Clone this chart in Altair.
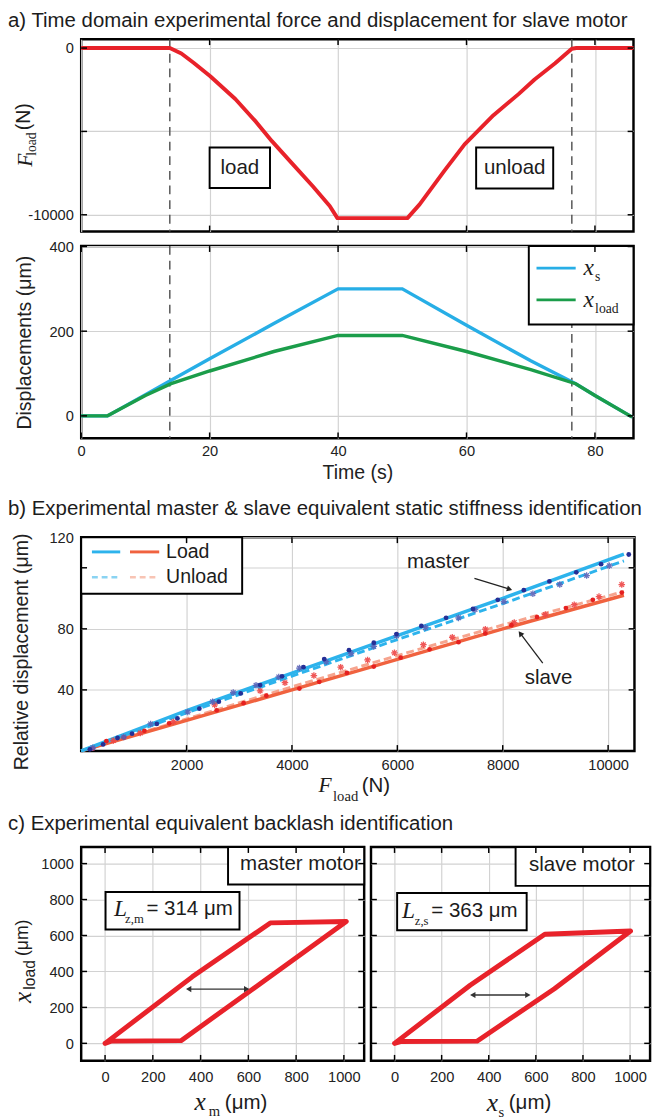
import altair as alt
import pandas as pd

SANS = "Liberation Sans"
SERIF = "Liberation Serif"
INK = "#1c1c1c"
RED = "#e8222a"
BLUE = "#27aee6"
GREEN = "#1b9d4a"
M_BLUE = "#2db3ec"
M_BLUE_L = "#8ad3f2"
S_RED = "#f0623f"
S_PINK = "#f6a48e"
S_PINK_L = "#f8c4b4"
NAVY = "#252f96"
M_STAR = "#5b63b8"
S_STAR = "#ee4646"
GRID = "#d2d2d2"
TITLE_SIZE = 20.9
LEFT = -75

# ---------------- (a) time domain ----------------
force_t = [0, 13.8, 15.6, 17.6, 20.1, 24.0, 27.2, 29.7, 32.9, 36.1, 38.7, 39.9,
           50.8, 52.7, 56.6, 59.7, 61.7, 64.2, 68.1, 70.6, 73.8, 76.4, 77.1, 86.0]
force_F = [0, 0, -330, -914, -1693, -3054, -4416, -5584, -6946, -8307, -9475, -10200,
           -10200, -9377, -7335, -5778, -5000, -4027, -2763, -1887, -914, -39, 0, 0]

disp_t = [0, 4.1, 10, 14, 20, 30, 40, 50, 60, 70, 77, 80, 85.8]
disp_xs = [0, 0, 50, 84, 135, 218, 300, 300, 214, 130, 76, 48, -3]
disp_xload = [0, 0, 48, 76, 106, 152, 190, 190, 152, 109, 76, 48, -3]

phase_t = [13.8, 76.4]
time_ticks = [0, 20, 40, 60, 80]
force_ticks = [0, -5000, -10000]
disp_ticks = [0, 200, 400]

force_box_label = ["load", "unload"]
force_box_t1 = [20.0, 61.5]
force_box_t2 = [29.4, 73.5]
force_box_F1 = [-5970, -5970]
force_box_F2 = [-8400, -8420]
force_box_tc = [24.7, 67.5]
force_box_Fc = [-7180, -7190]

disp_leg_box_t = [69.7, 86.0]
disp_leg_box_v = [216, 401]
disp_leg_line_t = [70.9, 77.0]
disp_leg_row_v = [349, 274]
disp_leg_text_t = 78.2
disp_leg_sub = ["s", "load"]
disp_leg_color = [BLUE, GREEN]

# ---------------- (b) stiffness ----------------
b_F = [0, 2000, 4000, 6000, 8000, 10300]
master_load = [0, 26.5, 51, 75.5, 100, 129]
master_unload = [0, 25, 49, 73, 96.5, 124.5]
slave_load = [0, 20, 40, 60, 80, 102]
slave_unload = [0, 21, 42, 62.5, 82.5, 104.5]

m_dot_F = [165, 416, 690, 965, 1435, 1827, 2243, 2612, 3027, 3396, 3812, 4219, 4612,
           5082, 5553, 5984, 6455, 6925, 7435, 7906, 8400, 8886, 9396, 9866, 10392]
m_dot_v = [1.1, 4.3, 8.5, 11.3, 17.7, 21.3, 27.7, 32.3, 37.7, 43.2, 48.9, 54.9, 60.2,
           66.0, 70.9, 76.6, 81.9, 87.2, 93.0, 99.0, 105.3, 111.1, 117.0, 122.4, 128.7]
m_star_F = [220, 808, 1318, 2023, 2494, 2886, 3318, 3749, 4141, 4651, 5121, 5553, 5984,
            6533, 7161, 7474, 8023, 8572, 9082, 9592, 10023]
m_star_v = [2.1, 9.2, 17.7, 25.5, 32.3, 38.3, 43.0, 48.5, 54.3, 58.5, 63.8, 68.5, 75.5,
            80.9, 87.2, 92.6, 97.9, 103.0, 109.0, 114.9, 121.3]
s_dot_F = [220, 478, 808, 1200, 1670, 2572, 3082, 3514, 4141, 4518, 5043, 5553, 6063,
           6612, 7161, 7670, 8164, 8651, 9200, 9710, 10259]
s_dot_v = [1.5, 6.4, 8.9, 13.2, 18.1, 26.6, 31.3, 36.2, 40.9, 45.3, 51.1, 55.3, 61.1,
           66.6, 71.3, 77.0, 82.4, 87.7, 93.6, 99.0, 103.8]
s_star_F = [612, 1122, 1749, 2533, 3396, 3867, 4416, 4925, 5435, 5945, 6494, 7043, 7670,
            8219, 8808, 9357, 9827, 10259]
s_star_v = [6.8, 11.7, 19.2, 30.2, 39.4, 44.7, 49.4, 54.9, 59.6, 64.3, 69.6, 74.5, 79.8,
            84.1, 89.4, 95.8, 101.1, 109.0]

b_xticks = [2000, 4000, 6000, 8000, 10000]
b_yticks = [40, 80, 120]

b_leg_box_F = [0, 3055]
b_leg_box_v = [103, 140]
b_leg_rows_v = [130.4, 113.8]
b_leg_blue_F = [204, 741]
b_leg_red_F = [926, 1481]
b_leg_text_F = 1611
b_leg_text = ["Load", "Unload"]

b_note_text = ["master", "slave"]
b_note_F = [6778, 8870]
b_note_v = [124, 48]
b_arrow_F1 = [7463, 8760]
b_arrow_v1 = [113, 57.5]
b_arrow_F2 = [8130, 8333]
b_arrow_v2 = [106, 77]
b_arrow_angle = [107, 323]

# ---------------- (c) backlash ----------------
loop_m_x = [0, 25, 318, 651, 1010, 692, 365, 0]
loop_m_y = [0, 12, 15, 333, 678, 670, 370, 0]
loop_s_x = [0, 25, 350, 679, 1002, 638, 321, 0]
loop_s_y = [0, 10, 12, 304, 625, 607, 323, 0]
c_ticks = [0, 200, 400, 600, 800, 1000]


# ---------------- helpers ----------------
def scales(xdom, ydom, xaxis, yaxis):
    xs = alt.Scale(domain=xdom, nice=False, zero=False)
    ys = alt.Scale(domain=ydom, nice=False, zero=False)

    def X(f):
        return alt.X(f, type="quantitative", scale=xs, axis=xaxis)

    def Y(f):
        return alt.Y(f, type="quantitative", scale=ys, axis=yaxis)

    return X, Y


def ptext(s, x, y, size, font=SANS, style="normal", angle=None, align="center",
          baseline="middle", opacity=None):
    kw = dict(font=font, fontSize=size, fontStyle=style, align=align,
              baseline=baseline, color=INK)
    if angle is not None:
        kw["angle"] = angle
    if opacity is not None:
        kw["opacity"] = opacity
    return alt.Chart(pd.DataFrame({"s": [s]})).mark_text(**kw).encode(
        x=alt.value(x), y=alt.value(y), text="s:N")


def tick_layers(X, Y, xvals, yvals, W, H, L=6):
    out = []
    rk = dict(color="black", strokeWidth=1.5)
    if xvals:
        d = pd.DataFrame({"v": xvals})
        out.append(alt.Chart(d).mark_rule(**rk).encode(x=X("v"), y=alt.value(H), y2=alt.value(H - L)))
        out.append(alt.Chart(d).mark_rule(**rk).encode(x=X("v"), y=alt.value(0), y2=alt.value(L)))
    if yvals:
        d = pd.DataFrame({"v": yvals})
        out.append(alt.Chart(d).mark_rule(**rk).encode(y=Y("v"), x=alt.value(0), x2=alt.value(L)))
        out.append(alt.Chart(d).mark_rule(**rk).encode(y=Y("v"), x=alt.value(W - L), x2=alt.value(W)))
    return out


# ================= (a) force panel =================
W_A, H_A = 566, 197
ax_time_top = alt.Axis(values=time_ticks, labels=False, title=None, grid=True)
ax_force = alt.Axis(values=force_ticks, title=None, labelPadding=8,
                    labelExpr="datum.value == -5000 ? '' : (datum.value < 0 ? '-' + abs(datum.value) : '' + datum.value)")
Xa, Ya = scales([0, 86], [-11000, 530], ax_time_top, ax_force)

force_df = pd.DataFrame({"t": force_t, "F": force_F})
phase_df = pd.DataFrame({"t": phase_t})
fbox_df = pd.DataFrame({"t1": force_box_t1, "t2": force_box_t2, "F1": force_box_F1,
                        "F2": force_box_F2, "tc": force_box_tc, "Fc": force_box_Fc,
                        "label": force_box_label})

force_layers = [
    alt.Chart(phase_df).mark_rule(color="#555555", strokeWidth=1.5, strokeDash=[9, 6]).encode(x=Xa("t")),
    alt.Chart(force_df).mark_line(color=RED, strokeWidth=4, strokeJoin="round").encode(x=Xa("t"), y=Ya("F")),
    alt.Chart(fbox_df).mark_rect(fill="white", stroke="black", strokeWidth=2).encode(
        x=Xa("t1"), x2="t2", y=Ya("F1"), y2="F2"),
    alt.Chart(fbox_df).mark_text(font=SANS, fontSize=21, color=INK).encode(
        x=Xa("tc"), y=Ya("Fc"), text="label:N"),
] + tick_layers(Xa, Ya, time_ticks[1:], force_ticks, W_A, H_A) + [
    ptext("a) Time domain experimental force and displacement for slave motor",
          LEFT, -12.5, TITLE_SIZE, align="left", baseline="alphabetic"),
    ptext("F", -57, 124, 22, SERIF, "italic", angle=270),
    ptext("load", -50, 107.5, 14, SERIF, angle=270),
    ptext("(N)", -58, 79.5, 20, angle=270),
]
force_chart = alt.layer(*force_layers).properties(width=W_A, height=H_A)

# ================= (a) displacement panel =================
ax_time = alt.Axis(values=time_ticks, format="d", title="Time (s)", labelPadding=6, titlePadding=4)
ax_disp = alt.Axis(values=disp_ticks, format="d", title="Displacements (μm)",
                   labelPadding=8, titlePadding=15)
Xd, Yd = scales([0, 86], [-53, 401], ax_time, ax_disp)

xs_df = pd.DataFrame({"t": disp_t, "v": disp_xs})
xl_df = pd.DataFrame({"t": disp_t, "v": disp_xload})
dleg_box = pd.DataFrame({"t1": [disp_leg_box_t[0]], "t2": [disp_leg_box_t[1]],
                         "v1": [disp_leg_box_v[0]], "v2": [disp_leg_box_v[1]]})
dleg_rows = pd.DataFrame({"t1": [disp_leg_line_t[0]] * 2, "t2": [disp_leg_line_t[1]] * 2,
                          "v": disp_leg_row_v, "c": disp_leg_color,
                          "tt": [disp_leg_text_t] * 2, "sub": disp_leg_sub})

disp_layers = [
    alt.Chart(phase_df).mark_rule(color="#555555", strokeWidth=1.5, strokeDash=[9, 6]).encode(x=Xd("t")),
    alt.Chart(xs_df).mark_line(color=BLUE, strokeWidth=3.5).encode(x=Xd("t"), y=Yd("v")),
    alt.Chart(xl_df).mark_line(color=GREEN, strokeWidth=3.5).encode(x=Xd("t"), y=Yd("v")),
    alt.Chart(dleg_box).mark_rect(fill="white", stroke="black", strokeWidth=2).encode(
        x=Xd("t1"), x2="t2", y=Yd("v1"), y2="v2"),
    alt.Chart(dleg_rows).mark_rule(strokeWidth=3).encode(
        x=Xd("t1"), x2="t2", y=Yd("v"), color=alt.Color("c:N", scale=None)),
    alt.Chart(dleg_rows).mark_text(text="x", font=SERIF, fontStyle="italic", fontSize=24,
                                   align="left", color=INK).encode(x=Xd("tt"), y=Yd("v")),
    alt.Chart(dleg_rows).mark_text(font=SERIF, fontSize=14, align="left", dx=12, dy=9,
                                   color=INK).encode(x=Xd("tt"), y=Yd("v"), text="sub:N"),
] + tick_layers(Xd, Yd, time_ticks, disp_ticks, W_A, H_A)
disp_chart = alt.layer(*disp_layers).properties(width=W_A, height=H_A)

# ================= (b) stiffness panel =================
W_B, H_B = 567, 219
ax_F = alt.Axis(values=b_xticks, format="d", title=None, labelPadding=7)
ax_rel = alt.Axis(values=[40, 80, 120, 140],
                  labelExpr="datum.value == 140 ? '120' : (datum.value == 120 ? '' : datum.label)",
                  title="Relative displacement (μm)", labelPadding=8, titlePadding=18, titleY=117)
Xb, Yb = scales([0, 10500], [0, 140], ax_F, ax_rel)


def bline(vals, color, width, dash=None):
    kw = dict(color=color, strokeWidth=width)
    if dash:
        kw["strokeDash"] = dash
    return alt.Chart(pd.DataFrame({"F": b_F, "v": vals})).mark_line(**kw).encode(x=Xb("F"), y=Yb("v"))


STAR = "M-1,0L1,0M0,-1L0,1M-0.7,-0.7L0.7,0.7M-0.7,0.7L0.7,-0.7"


def bpts(F, v, color, star):
    d = pd.DataFrame({"F": F, "v": v})
    if star:
        m = alt.Chart(d).mark_point(shape=STAR, filled=False, size=45, strokeWidth=1.3, color=color, opacity=0.9)
    else:
        m = alt.Chart(d).mark_point(shape="circle", filled=True, size=24, color=color, opacity=1)
    return m.encode(x=Xb("F"), y=Yb("v"))


bleg_box = pd.DataFrame({"F1": [b_leg_box_F[0]], "F2": [b_leg_box_F[1]],
                         "v1": [b_leg_box_v[0]], "v2": [b_leg_box_v[1]]})
bleg_lines = pd.DataFrame({
    "F1": [b_leg_blue_F[0], b_leg_red_F[0], b_leg_blue_F[0], b_leg_red_F[0]],
    "F2": [b_leg_blue_F[1], b_leg_red_F[1], b_leg_blue_F[1], b_leg_red_F[1]],
    "v": [b_leg_rows_v[0], b_leg_rows_v[0], b_leg_rows_v[1], b_leg_rows_v[1]],
    "c": [M_BLUE, S_RED, M_BLUE_L, S_PINK_L]})
bleg_text = pd.DataFrame({"F": [b_leg_text_F] * 2, "v": b_leg_rows_v, "s": b_leg_text})
bnote = pd.DataFrame({"F": b_note_F, "v": b_note_v, "s": b_note_text})
barrow = pd.DataFrame({"F1": b_arrow_F1, "v1": b_arrow_v1, "F2": b_arrow_F2,
                       "v2": b_arrow_v2, "a": b_arrow_angle})

b_layers = [
    bline(slave_unload, S_PINK, 3, [8, 4]),
    bline(slave_load, S_RED, 3.5),
    bline(master_unload, M_BLUE, 3, [8, 4]),
    bline(master_load, M_BLUE, 3.5),
    bpts(s_star_F, s_star_v, S_STAR, True),
    bpts(s_dot_F, s_dot_v, "#e52020", False),
    bpts(m_star_F, m_star_v, M_STAR, True),
    bpts(m_dot_F, m_dot_v, NAVY, False),
    alt.Chart(bleg_box).mark_rect(fill="white", stroke="black", strokeWidth=2).encode(
        x=Xb("F1"), x2="F2", y=Yb("v1"), y2="v2"),
    alt.Chart(bleg_lines.iloc[:2]).mark_rule(strokeWidth=3).encode(
        x=Xb("F1"), x2="F2", y=Yb("v"), color=alt.Color("c:N", scale=None)),
    alt.Chart(bleg_lines.iloc[2:]).mark_rule(strokeWidth=2.5, strokeDash=[6, 4]).encode(
        x=Xb("F1"), x2="F2", y=Yb("v"), color=alt.Color("c:N", scale=None)),
    alt.Chart(bleg_text).mark_text(font=SANS, fontSize=20, align="left", color=INK).encode(
        x=Xb("F"), y=Yb("v"), text="s:N"),
    alt.Chart(bnote).mark_text(font=SANS, fontSize=21, color=INK).encode(
        x=Xb("F"), y=Yb("v"), text="s:N"),
    alt.Chart(barrow).mark_rule(color="#222222", strokeWidth=1.3).encode(
        x=Xb("F1"), x2="F2", y=Yb("v1"), y2="v2"),
    alt.Chart(barrow).mark_point(shape="triangle-up", filled=True, size=40, color="#222222",
                                 opacity=1).encode(
        x=Xb("F2"), y=Yb("v2"), angle=alt.Angle("a:Q", scale=None)),
] + tick_layers(Xb, Yb, b_xticks, b_yticks, W_B, H_B) + [
    ptext("b) Experimental master & slave equivalent static stiffness identification",
          LEFT, -23, TITLE_SIZE, align="left", baseline="alphabetic"),
    ptext("F", 250, H_B + 35, 22, SERIF, "italic"),
    ptext("load", 271, H_B + 46, 15, SERIF),
    ptext("(N)", 302, H_B + 36, 21),
]
b_chart = alt.layer(*b_layers).properties(width=W_B, height=H_B)

# ================= (c) backlash panels =================
H_C = 219
W_CL, W_CR = 290, 286
ax_c_x = alt.Axis(values=c_ticks, format="d", title=None, labelPadding=9)
ax_c_y = alt.Axis(values=c_ticks, format="d", title=None, labelPadding=8)
ax_c_y_r = alt.Axis(values=c_ticks, labels=False, title=None)
Xcl, Ycl = scales([-100, 1085], [-97, 1092], ax_c_x, ax_c_y)
Xcr, Ycr = scales([-100, 1085], [-97, 1092], ax_c_x, ax_c_y_r)


def c_panel(X, Y, W, lx, ly, motor_box, motor_text, Lbox, Lparts, arrow):
    loop = pd.DataFrame({"i": list(range(len(lx))), "x": lx, "y": ly})
    mb = pd.DataFrame({"x1": [motor_box[0]], "x2": [motor_box[1]], "y1": [motor_box[2]],
                       "y2": [motor_box[3]], "tx": [motor_text[1]], "ty": [motor_text[2]],
                       "s": [motor_text[0]]})
    lb = pd.DataFrame({"x1": [Lbox[0]], "x2": [Lbox[1]], "y1": [Lbox[2]], "y2": [Lbox[3]]})
    Ldf = pd.DataFrame({"x": [Lparts[0]], "xs": [Lparts[1]], "xe": [Lparts[2]], "y": [Lparts[3]],
                        "sub": [Lparts[4]], "eq": [Lparts[5]]})
    ar = pd.DataFrame({"x1": [arrow[0]], "x2": [arrow[1]], "y": [arrow[2]]})
    ah = pd.DataFrame({"x": [arrow[0], arrow[1]], "y": [arrow[2]] * 2,
                       "sh": ["triangle-left", "triangle-right"]})
    layers = [
        alt.Chart(loop).mark_line(color=RED, strokeWidth=5, strokeJoin="round", strokeCap="round").encode(
            x=X("x"), y=Y("y"), order="i:Q"),
        alt.Chart(mb).mark_rect(fill="white", stroke="black", strokeWidth=2).encode(
            x=X("x1"), x2="x2", y=Y("y1"), y2="y2"),
        alt.Chart(mb).mark_text(font=SANS, fontSize=21, color=INK).encode(
            x=X("tx"), y=Y("ty"), text="s:N"),
        alt.Chart(lb).mark_rect(fill="white", stroke="black", strokeWidth=2).encode(
            x=X("x1"), x2="x2", y=Y("y1"), y2="y2"),
        alt.Chart(Ldf).mark_text(text="L", font=SERIF, fontStyle="italic", fontSize=24,
                                 align="left", color=INK).encode(x=X("x"), y=Y("y")),
        alt.Chart(Ldf).mark_text(font=SERIF, fontSize=13, align="left", dy=10, color=INK).encode(
            x=X("xs"), y=Y("y"), text="sub:N"),
        alt.Chart(Ldf).mark_text(font=SANS, fontSize=21, align="left", color=INK).encode(
            x=X("xe"), y=Y("y"), text="eq:N"),
        alt.Chart(ar).mark_rule(color="#333333", strokeWidth=1.3).encode(
            x=X("x1"), x2="x2", y=Y("y")),
        alt.Chart(ah).mark_point(filled=True, size=40, color="#333333", opacity=1).encode(
            x=X("x"), y=Y("y"), shape=alt.Shape("sh:N", scale=None)),
    ] + tick_layers(X, Y, c_ticks, c_ticks, W, H_C)
    return layers


cl_layers = c_panel(Xcl, Ycl, W_CL, loop_m_x, loop_m_y,
                    [515, 1085, 884, 1092], ["master motor", 818, 996],
                    [2, 563, 633, 842], [37, 84, 173, 747, "z,m", "= 314 μm"],
                    [350, 593, 302]) + [
    ptext(".", LEFT, 100, 10, align="left", opacity=0),
    ptext("x", -59, 154, 26, SERIF, "italic", angle=270),
    ptext("load", -52, 131, 16, angle=270),
    ptext("(μm)", -59, 93, 18, angle=270),
    ptext("x", 122, H_C + 42, 26, SERIF, "italic"),
    ptext("m", 136.5, H_C + 52, 15, SERIF),
    ptext("(μm)", 169, H_C + 43, 21),
]
cr_layers = c_panel(Xcr, Ycr, W_CR, loop_s_x, loop_s_y,
                    [514, 1085, 876, 1092], ["slave motor", 796, 989],
                    [11, 561, 629, 836], [32, 86, 156, 734, "z,s", "= 363 μm"],
                    [332, 566, 269]) + [
    ptext("x", 124.5, H_C + 43, 26, SERIF, "italic"),
    ptext("s", 133.5, H_C + 53, 15, SERIF),
    ptext("(μm)", 163, H_C + 43, 21),
]
cl_chart = alt.layer(*cl_layers).properties(width=W_CL, height=H_C)
cr_chart = alt.layer(*cr_layers).properties(width=W_CR, height=H_C)

title_c = ptext("c) Experimental equivalent backlash identification", LEFT, 0, TITLE_SIZE,
                align="left", baseline="alphabetic").properties(
    width=1, height=1, view=alt.ViewBackground(stroke="transparent"))

block_a = alt.vconcat(force_chart, disp_chart, spacing=5)
block_c = alt.vconcat(alt.vconcat(title_c), alt.hconcat(cl_chart, cr_chart, spacing=2), spacing=8)
block_bc = alt.vconcat(alt.vconcat(b_chart), block_c, spacing=6.5)

chart = alt.vconcat(block_a, block_bc, spacing=12.4).properties(
    padding={"top": -13, "left": -2, "right": 0, "bottom": 0}, background="white"
).configure_view(
    stroke="black", strokeWidth=2.5
).configure_axis(
    domain=False, ticks=False, labelFlush=False, gridColor=GRID, gridWidth=1.2,
    labelFont=SANS, labelFontSize=15, labelColor="#222222",
    titleFont=SANS, titleFontSize=20, titleFontWeight="normal", titleColor="#222222",
)

chart.save("out.html", embed_options={"renderer": "svg", "actions": False})
